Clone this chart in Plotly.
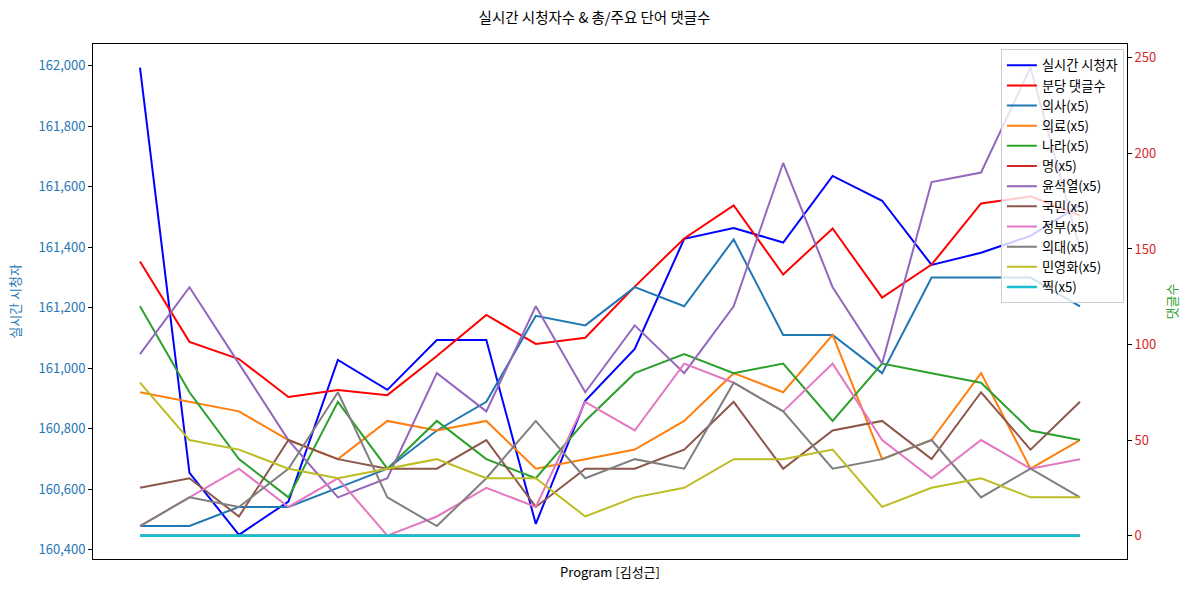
import plotly.graph_objects as go

x_idx = list(range(20))

viewers = [161994, 160655, 160450, 160560, 161028, 160929, 161094, 161094, 160486, 160893,
           161064, 161428, 161464, 161416, 161636, 161554, 161342, 161382, 161438, 161540]
comments_per_min = [143.4, 101.4, 92.4, 72.5, 76.2, 73.5, 94.0, 115.5, 100.3, 103.5,
                    130.3, 155.5, 172.8, 136.6, 160.7, 124.5, 141.8, 173.8, 177.5, 167.5]

keywords = {
    "의사(x5)":   [5, 5, 15, 15, 25, 35, 55, 70, 115, 110, 130, 120, 155, 105, 105, 85, 135, 135, 135, 120],
    "의료(x5)":   [75, 70, 65, 50, 40, 60, 55, 60, 35, 40, 45, 60, 85, 75, 105, 40, 50, 85, 35, 50],
    "나라(x5)":   [120, 75, 40, 20, 70, 35, 60, 40, 30, 60, 85, 95, 85, 90, 60, 90, 85, 80, 55, 50],
    "명(x5)":     [0] * 20,
    "윤석열(x5)": [95, 130, 90, 50, 20, 30, 85, 65, 120, 75, 110, 85, 120, 195, 130, 90, 185, 190, 245, 150],
    "국민(x5)":   [25, 30, 10, 50, 40, 35, 35, 50, 15, 35, 35, 45, 70, 35, 55, 60, 40, 75, 45, 70],
    "정부(x5)":   [5, 20, 35, 15, 30, 0, 10, 25, 15, 70, 55, 90, 80, 65, 90, 50, 30, 50, 35, 40],
    "의대(x5)":   [5, 20, 15, 35, 75, 20, 5, 30, 60, 30, 40, 35, 80, 65, 35, 40, 50, 20, 35, 20],
    "민영화(x5)": [80, 50, 45, 35, 30, 35, 40, 30, 30, 10, 20, 25, 40, 40, 45, 15, 25, 30, 20, 20],
    "찍(x5)":     [0] * 20,
}
keyword_colors = ["#1f77b4", "#ff7f0e", "#2ca02c", "#d62728", "#9467bd",
                  "#8c564b", "#e377c2", "#7f7f7f", "#bcbd22", "#17becf"]

left_ticks = [160400, 160600, 160800, 161000, 161200, 161400, 161600, 161800, 162000]
right_ticks = [0, 50, 100, 150, 200, 250]

FONT = "Noto Sans CJK KR, Noto Sans, DejaVu Sans, sans-serif"

fig = go.Figure()
fig.add_trace(go.Scatter(x=x_idx, y=viewers, mode="lines", name="실시간 시청자",
                         line=dict(color="#0000ff", width=2), yaxis="y"))
fig.add_trace(go.Scatter(x=x_idx, y=comments_per_min, mode="lines", name="분당 댓글수",
                         line=dict(color="#ff0000", width=2), yaxis="y2"))
names = list(keywords.keys())
for (name, vals), col in zip(keywords.items(), keyword_colors):
    w = 2.6 if name == names[-1] else 2
    fig.add_trace(go.Scatter(x=x_idx, y=vals, mode="lines", name=name,
                             line=dict(color=col, width=w), yaxis="y2"))

fig.update_layout(
    width=1189, height=593,
    margin=dict(l=93, r=62, t=44, b=34),
    paper_bgcolor="white", plot_bgcolor="white",
    font=dict(family=FONT, size=13, color="#000000"),
    title=dict(text="실시간 시청자수 & 총/주요 단어 댓글수", x=0.5, xanchor="center",
               y=0.97, yanchor="middle", font=dict(size=14.5, family=FONT)),
    showlegend=True,
    legend=dict(x=0.997, y=0.99, xanchor="right", yanchor="top",
                bgcolor="rgba(255,255,255,0.8)", bordercolor="#cccccc", borderwidth=1,
                font=dict(size=13.2, family=FONT), tracegroupgap=0, itemwidth=30),
    xaxis=dict(range=[-0.95, 19.95], showticklabels=False, ticks="", showgrid=False,
               zeroline=False, showline=True, linecolor="black", linewidth=1, mirror=True,
               title=dict(text="Program [김성근]", font=dict(size=13), standoff=8)),
    yaxis=dict(range=[160370, 162072], tickvals=left_ticks, tickformat=",d",
               showgrid=False, zeroline=False, showline=True, linecolor="black", linewidth=1,
               ticks="outside", ticklen=4, tickcolor="black",
               tickfont=dict(color="#1f77b4", size=13),
               title=dict(text="실시간 시청자", font=dict(color="#1f77b4", size=13), standoff=14)),
    yaxis2=dict(range=[-12.25, 257.25], tickvals=right_ticks, overlaying="y", side="right",
                showgrid=False, zeroline=False, showline=True, linecolor="black", linewidth=1,
                ticks="outside", ticklen=4, tickcolor="black",
                tickfont=dict(color="#d62728", size=13),
                title=dict(text="댓글수", font=dict(color="#2ca02c", size=13), standoff=12)),
)

fig.write_html("out.html")
